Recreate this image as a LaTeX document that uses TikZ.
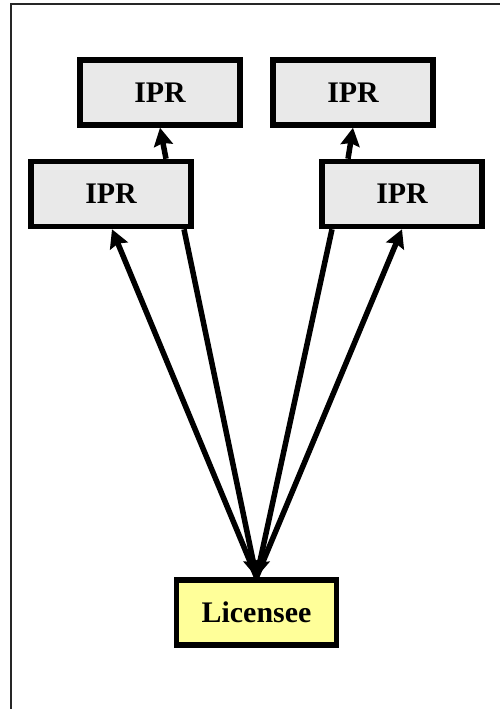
\documentclass[tikz,border=0pt]{standalone}
\usepackage{fontspec}
\setmainfont{Liberation Serif}
\usetikzlibrary{arrows.meta}
\definecolor{boxgray}{HTML}{E9E9E9}
\definecolor{boxyellow}{HTML}{FFFF99}
\tikzset{
  iprbox/.style={draw=black, line width=5.5bp, fill=boxgray, minimum width=160bp, minimum height=65bp, inner sep=0pt, font=\fontsize{30}{36}\selectfont\bfseries},
  licbox/.style={iprbox, fill=boxyellow},
  conn/.style={line width=5.5bp, -{Stealth[length=18bp,width=19bp,inset=2.5bp]}},
  frameline/.style={line width=2bp, draw=black!85}
}
\begin{document}
\begin{tikzpicture}[x=1bp,y=-1bp]
\useasboundingbox (0,0) rectangle (500,709);
\coordinate (fbl) at (11,709);
\coordinate (ftl) at (11,4);
\coordinate (ftr) at (500,4);
\draw[frameline] (fbl) -- (ftl) -- (ftr);
\node[iprbox] (t1) at (160,92.5) {IPR};
\node[iprbox] (t2) at (353,92.5) {IPR};
\node[iprbox] (b1) at (111,194) {IPR};
\node[iprbox] (b2) at (402,194) {IPR};
\node[licbox] (lic) at (256.5,612.5) {Licensee};
\draw[conn] ([xshift=55bp]b1.north) -- (t1.south);
\draw[conn] ([xshift=-54bp]b2.north) -- (t2.south);
\draw[conn] (lic.north) -- ([xshift=1bp]b1.south);
\draw[conn] ([xshift=73bp]b1.south) -- (lic.north);
\draw[conn] ([xshift=-70bp]b2.south) -- (lic.north);
\draw[conn] (lic.north) -- (b2.south);
\end{tikzpicture}
\end{document}
